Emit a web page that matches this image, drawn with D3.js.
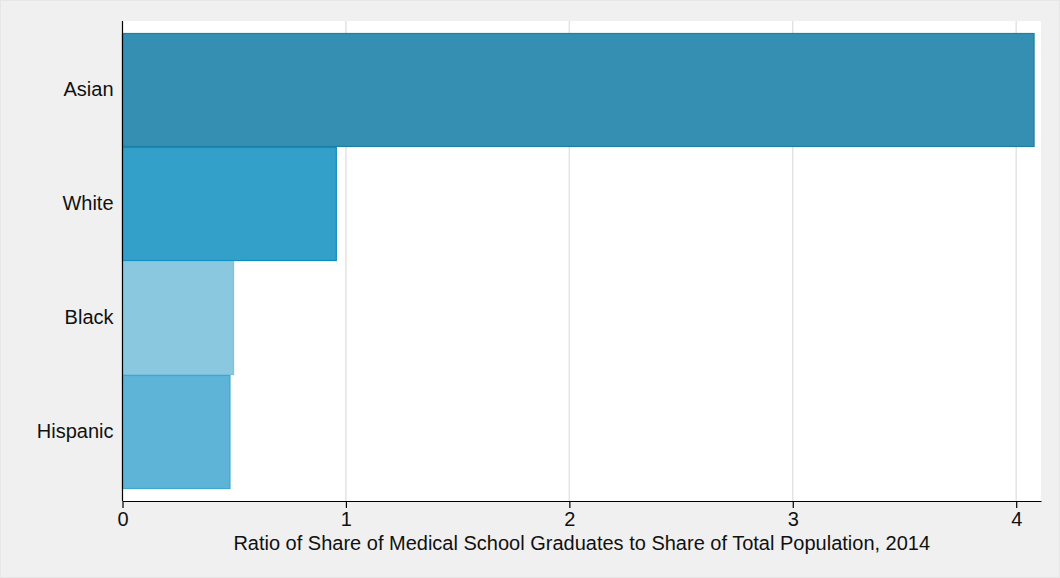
<!DOCTYPE html>
<html><head><meta charset="utf-8">
<script src="https://cdn.jsdelivr.net/npm/d3@7"></script>
<style>
html,body{margin:0;padding:0;background:#f0f0f0;}
svg{display:block;font-family:"Liberation Sans",Arial,sans-serif;}
</style></head>
<body>
<svg id="chart" width="1060" height="578"></svg>
<script>
const categories = ["Asian","White","Black","Hispanic"];
const values = [4.08, 0.957, 0.497, 0.481];
const fills = ["#348fb2","#33a0c9","#89c8df","#5db4d7"];
const strokes = ["#1c80a3","#0b8bc1","#7dc1dc","#3ea7d1"];
const xTicks = [0,1,2,3,4];
const xTitle = "Ratio of Share of Medical School Graduates to Share of Total Population, 2014";

const svg = d3.select("#chart");
const L = 122.5, R = 1041, T = 21, B = 501;
const FS = 20;
svg.append("rect").attr("x",0.5).attr("y",0.5).attr("width",1059).attr("height",577)
  .attr("fill","#f0f0f0").attr("stroke","#e6e6e6");
svg.append("rect").attr("x",L).attr("y",T).attr("width",R-L).attr("height",B-T).attr("fill","#fff");

const x = d3.scaleLinear().domain([0,4.111]).range([L,R]);
const y = d3.scaleBand().domain(categories).range([T+12,B-12]).padding(0);

svg.append("g").selectAll("line").data(xTicks.slice(1)).join("line")
  .attr("x1",d=>x(d)).attr("x2",d=>x(d)).attr("y1",T).attr("y2",B)
  .attr("stroke","#e3e3e3").attr("stroke-width",1.5);

svg.append("g").selectAll("rect").data(categories).join("rect")
  .attr("x",x(0)).attr("y",d=>y(d)+0.5)
  .attr("width",(d,i)=>x(values[i])-x(0)).attr("height",y.bandwidth()-1)
  .attr("fill",(d,i)=>fills[i]).attr("stroke",(d,i)=>strokes[i]).attr("stroke-width",1.2);

const xa = svg.append("g").attr("transform",`translate(0,${B})`)
  .call(d3.axisBottom(x).tickValues(xTicks).tickFormat(d3.format("d")).tickSize(7).tickPadding(4).tickSizeOuter(0));
xa.select(".domain").attr("stroke","#000").attr("stroke-width",1.2);
xa.selectAll(".tick line").attr("stroke","#000").attr("stroke-width",1.2);
xa.selectAll("text").attr("font-size",FS).attr("fill","#111").attr("font-family","Liberation Sans, Arial, sans-serif");

const ya = svg.append("g").attr("transform",`translate(${L},0)`)
  .call(d3.axisLeft(y).tickSize(0).tickPadding(9).tickSizeOuter(0));
ya.select(".domain").attr("d",`M0,${T}V${B}`).attr("stroke","#000").attr("stroke-width",1.2);
ya.selectAll("text").attr("font-size",FS).attr("fill","#111").attr("font-family","Liberation Sans, Arial, sans-serif");

svg.append("text").attr("x",(L+R)/2).attr("y",550).attr("text-anchor","middle")
  .attr("font-size",FS).attr("fill","#111").text(xTitle);
</script>
</body></html>
